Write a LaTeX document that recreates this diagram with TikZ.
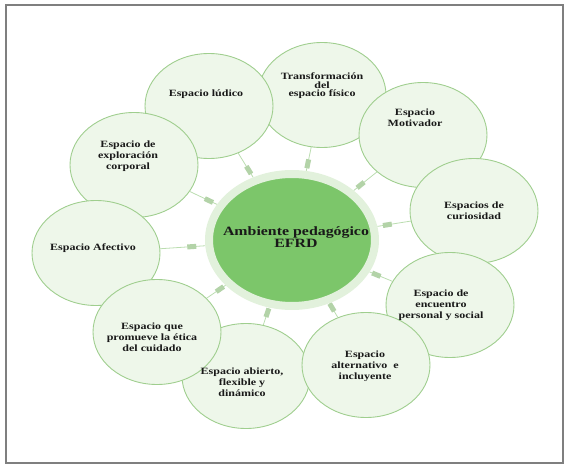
\documentclass[tikz,border=0pt]{standalone}
\usepackage{fontspec}
\setmainfont{Liberation Serif}[FakeStretch=1.25]
\usetikzlibrary{shapes.geometric, backgrounds}
\definecolor{efrdgreen}{HTML}{7CC66A}
\definecolor{efrdhalo}{HTML}{E2F1DC}
\definecolor{bubblefill}{HTML}{EEF7EA}
\definecolor{bubbleline}{HTML}{9FCE8E}
\definecolor{linkgreen}{HTML}{BBDDB0}
\definecolor{leafgreen}{HTML}{B3D3A8}
\definecolor{framegray}{HTML}{7F7F7F}

\begin{document}
\begin{tikzpicture}[x=1pt, y=-1pt,
    bubble/.style={ellipse, draw=bubbleline, fill=bubblefill, line width=0.9pt,
        minimum width=128pt, minimum height=105pt, inner sep=0pt},
    hub/.style={ellipse, draw=efrdhalo, fill=efrdgreen, line width=8pt,
        minimum width=166pt, minimum height=132pt, inner sep=0pt},
    txt/.style={align=center, text=black!90, inner sep=0pt,
        font=\fontsize{9.6}{11}\selectfont\bfseries},
    hubtxt/.style={align=center, text=black!90, inner sep=0pt,
        font=\fontsize{12.7}{12.5}\selectfont\bfseries},
    link/.style={draw=linkgreen, line width=0.8pt},
    leaf/.style={rectangle, fill=leafgreen, minimum width=9pt, minimum height=5pt,
        inner sep=0pt, sloped}]

    \useasboundingbox (0,0) rectangle (568,468);
    \draw[framegray, line width=2pt] (6,5) rectangle (563,463);

    % satellite bubbles
    \node[bubble] (fisico)      at (322,95)  {};
    \node[bubble] (ludico)      at (209,106) {};
    \node[bubble] (motivador)   at (423,135) {};
    \node[bubble] (curiosidad)  at (474,211) {};
    \node[bubble] (exploracion) at (134,165) {};
    \node[bubble] (afectivo)    at (96,253)  {};
    \node[bubble] (encuentro)   at (450,305) {};
    \node[bubble] (abierto)     at (246,376) {};
    \node[bubble] (etica)       at (157,332) {};
    \node[bubble] (alternativo) at (366,365) {};

    \node[hub] (hub) at (292,240) {};
    \node[hubtxt] (hub-t) at (296,237) {Ambiente pedagógico\\EFRD};

    % texts
    \node[txt] (ludico-t)      at (206,94)  {Espacio lúdico};
    \node[txt] (fisico-t)      at (322,86)  {Transformación\\[-2.5pt]del\\[-2.5pt]espacio físico};
    \node[txt] (motivador-t)   at (415,118) {Espacio\\Motivador};
    \node[txt] (curiosidad-t)  at (474,211) {Espacios de\\curiosidad};
    \node[txt] (encuentro-t)   at (441,305) {Espacio de\\encuentro\\personal y social};
    \node[txt] (alternativo-t) at (365,366) {Espacio\\alternativo\ \ e\\incluyente};
    \node[txt] (abierto-t)     at (242,382) {Espacio abierto,\\flexible y\\dinámico};
    \node[txt] (etica-t)       at (152,337) {Espacio que\\promueve la ética\\del cuidado};
    \node[txt] (afectivo-t)    at (93,248)  {Espacio Afectivo};
    \node[txt] (exploracion-t) at (128,156) {Espacio de\\exploración\\corporal};

    % connectors
    \begin{scope}[on background layer]
        \foreach \b in {ludico, fisico, motivador, curiosidad, encuentro,
                        alternativo, abierto, etica, afectivo, exploracion}
            \draw[link] (hub) -- (\b) node[leaf, pos=0.3] {};
    \end{scope}

\end{tikzpicture}
\end{document}
